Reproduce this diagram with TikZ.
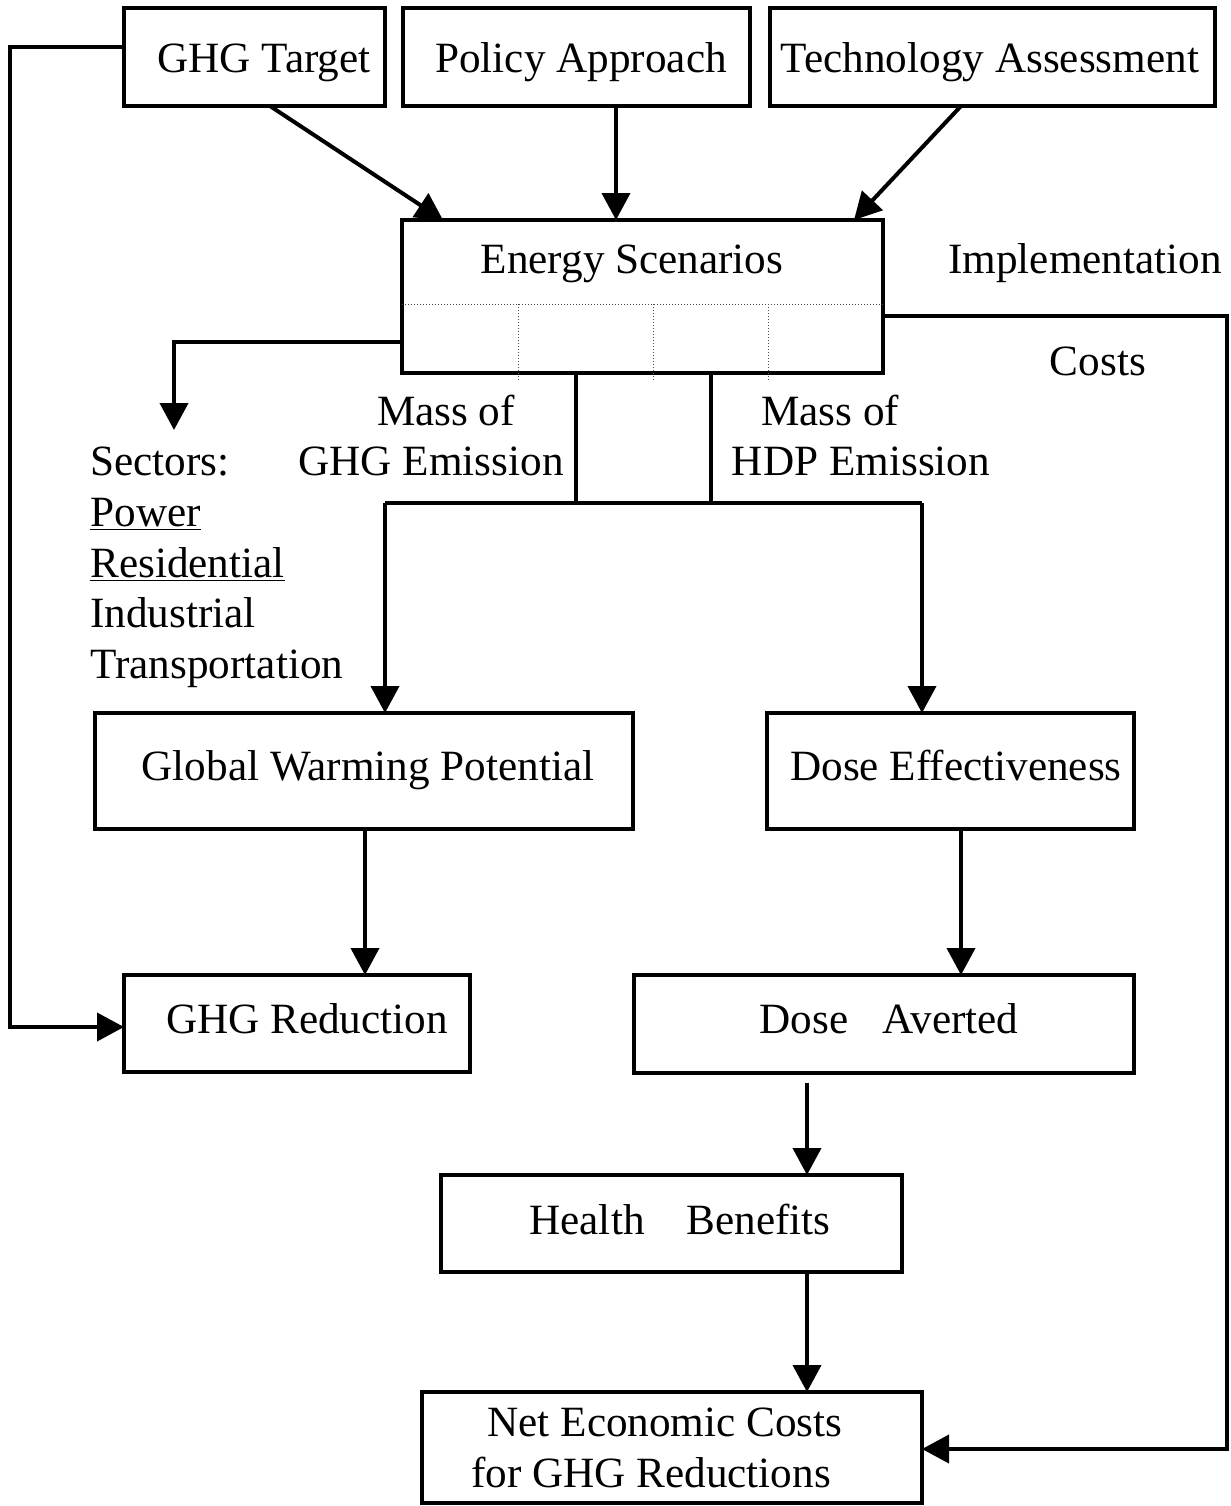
\documentclass[tikz,border=0pt]{standalone}
\usepackage{fontspec}
\setmainfont{Liberation Serif}
\usetikzlibrary{arrows.meta,calc}
\begin{document}
\begin{tikzpicture}[x=0.5pt,y=-0.5pt,
  box/.style={draw,line width=2pt,inner sep=0pt,outer sep=0pt},
  lbl/.style={anchor=base,inner sep=0pt,font=\fontsize{21.6pt}{26pt}\selectfont},
  lbll/.style={anchor=base west,inner sep=0pt,font=\fontsize{21.6pt}{26pt}\selectfont},
  conn/.style={line width=2pt},
  arr/.style={line width=2pt,-{Triangle[length=13.5pt,width=14pt]}},
  dotl/.style={line width=0.5pt,densely dotted,black!70}]
\useasboundingbox (0,0) rectangle (1231,1506);
% boxes
\node[box,minimum width=130.5pt,minimum height=49pt] (gt) at (254.5,57) {};
\node[box,minimum width=173.5pt,minimum height=49pt] (pa) at (576.5,57) {};
\node[box,minimum width=222.5pt,minimum height=49pt] (ta) at (992.5,57) {};
\node[box,minimum width=240.5pt,minimum height=76.5pt] (es) at (642.5,296.5) {};
\node[box,minimum width=269pt,minimum height=58pt] (gwp) at (364,771) {};
\node[box,minimum width=183.5pt,minimum height=58pt] (de) at (950.5,771) {};
\node[box,minimum width=173pt,minimum height=48.5pt] (gr) at (297,1023.5) {};
\node[box,minimum width=250pt,minimum height=49pt] (da) at (884,1024) {};
\node[box,minimum width=230.5pt,minimum height=48.5pt] (hb) at (671.5,1223.5) {};
\node[box,minimum width=250pt,minimum height=55.5pt] (nc) at (672,1447.5) {};
% texts
\node[lbl] (tgt) at (264,72) {GHG Target};
\node[lbl] (tpa) at (581,72) {Policy Approach};
\node[lbl] (tta) at (990,72) {Technology Assessment};
\node[lbl] (tes) at (632,273) {Energy Scenarios};
\node[lbl] (timp) at (1085,273) {Implementation};
\node[lbl] (tcost) at (1098,375) {Costs};
\node[lbl] (tm1) at (446,425) {Mass of};
\node[lbl] (tm2) at (431,475) {GHG Emission};
\node[lbl] (tm3) at (830,425) {Mass of};
\node[lbl] (tm4) at (861,475) {HDP Emission};
\node[lbll] (ts1) at (90,475) {Sectors:};
\node[lbll] (ts2) at (90,526) {\underline{Power}};
\node[lbll] (ts3) at (90,577) {\underline{Residential}};
\node[lbll] (ts4) at (90,627) {Industrial};
\node[lbll] (ts5) at (90,678) {Transportation};
\node[lbl] (tgwp) at (368,780) {Global Warming Potential};
\node[lbl] (tde) at (956,780) {Dose Effectiveness};
\node[lbl] (tgr) at (307,1033) {GHG Reduction};
\node[lbl] (tda) at (889,1033) {Dose\hspace{17pt}Averted};
\node[lbl] (thb) at (680,1234) {Health\hspace{21pt}Benefits};
\node[lbl] (tnc1) at (665,1436) {Net Economic Costs};
\node[lbl] (tnc2) at (651,1487) {for GHG Reductions};
% dotted grid inside energy scenarios
\coordinate (d0) at (402,304);
\coordinate (d1) at (883,304);
\draw[dotl] (d0) -- (d1);
\coordinate (v1a) at (518,304); \coordinate (v1b) at (518,380);
\coordinate (v2a) at (653,304); \coordinate (v2b) at (653,380);
\coordinate (v3a) at (768,304); \coordinate (v3b) at (768,380);
\draw[dotl] (v1a) -- (v1b);
\draw[dotl] (v2a) -- (v2b);
\draw[dotl] (v3a) -- (v3b);
% top arrows
\draw[arr] ([xshift=7.75pt]gt.south) -- ([xshift=-99.75pt]es.north);
\draw[arr] ([xshift=19.75pt]pa.south) -- ([xshift=-13.25pt]es.north);
\draw[arr] ([xshift=-15.75pt]ta.south) -- ([xshift=105.75pt]es.north);
% left feedback
\coordinate (l1) at (10,47);
\coordinate (l2) at (10,1027);
\draw[arr] ([yshift=5pt]gt.west) -- (l1) -- (l2) -- ([yshift=-1.75pt]gr.west);
% sectors arrow
\coordinate (s1) at (174,342);
\coordinate (s2) at (174,430);
\draw[arr] ([yshift=-22.75pt]es.west) -- (s1) -- (s2);
% implementation costs
\coordinate (r1) at (1227,316);
\coordinate (r2) at (1227,1449);
\draw[arr] ([yshift=-9.75pt]es.east) -- (r1) -- (r2) -- ([yshift=-0.75pt]nc.east);
% split
\coordinate (b1) at (576,503);
\coordinate (b2) at (711,503);
\coordinate (j1) at (385,503);
\coordinate (j2) at (922,503);
\draw[conn] ([xshift=-33.25pt]es.south) -- (b1);
\draw[conn] ([xshift=34.25pt]es.south) -- (b2);
\draw[conn] (j1) -- (j2);
\draw[arr] (j1) -- ([xshift=10.5pt]gwp.north);
\draw[arr] (j2) -- ([xshift=-14.25pt]de.north);
% lower arrows
\draw[arr] ([xshift=0.5pt]gwp.south) -- ([xshift=0.5pt]gwp.south |- gr.north);
\draw[arr] ([xshift=5.25pt]de.south) -- ([xshift=5.25pt]de.south |- da.north);
\draw[arr,shorten <=5pt] ([xshift=-38.5pt]da.south) -- ([xshift=-38.5pt]da.south |- hb.north);
\draw[arr] ([xshift=67.75pt]hb.south) -- ([xshift=67.75pt]hb.south |- nc.north);
\end{tikzpicture}
\end{document}
